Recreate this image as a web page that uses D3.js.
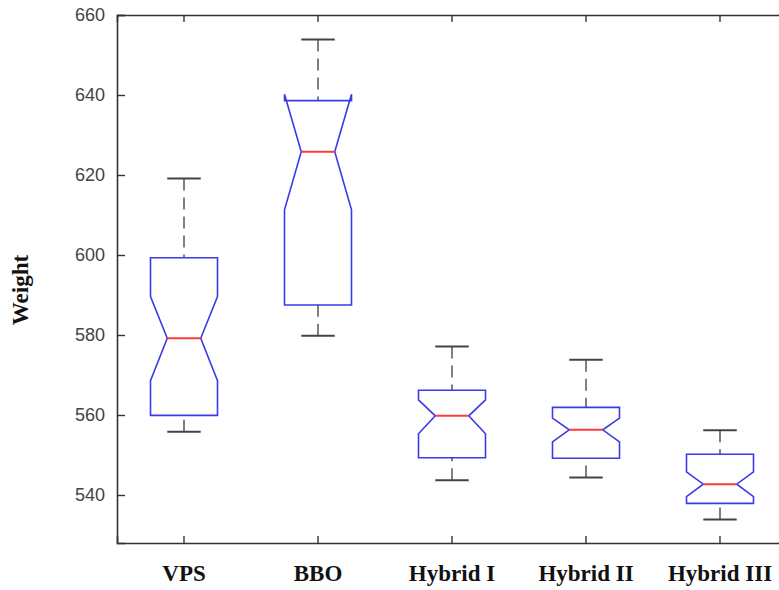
<!DOCTYPE html>
<html>
<head>
<meta charset="utf-8">
<script src="https://cdn.jsdelivr.net/npm/d3@7"></script>
<style>
  html, body { margin: 0; padding: 0; background: #fff; }
  svg { display: block; }
</style>
</head>
<body>
<svg id="chart" width="779" height="590"></svg>
<script>
// Notched box plot of weight per algorithm
const categories = ["VPS", "BBO", "Hybrid I", "Hybrid II", "Hybrid III"];
const whiskerHigh = [619.1, 653.9, 577.1, 573.8, 556.2];
const q3Values    = [599.3, 638.6, 566.2, 561.9, 550.2];
const notchHigh   = [589.6, 640.2, 563.8, 559.2, 545.8];
const medians     = [579.2, 625.8, 559.8, 556.3, 542.7];
const notchLow    = [568.6, 611.3, 555.3, 553.3, 539.6];
const q1Values    = [559.9, 587.5, 549.3, 549.2, 537.9];
const whiskerLow  = [555.8, 579.8, 543.7, 544.4, 533.9];
const yTicks = [540, 560, 580, 600, 620, 640, 660];
const yLabel = "Weight";

const svg = d3.select("#chart");
const plotLeft = 117, plotRight = 787, plotTop = 15, plotBottom = 543;

const x = d3.scaleBand().domain(categories).range([plotLeft, plotRight]).padding(0);
const y = d3.scaleLinear().domain([528, 660]).range([plotBottom, plotTop]);

const frameColor = "#333";

// Axes: ticks point inward on all four sides
const gLeft = svg.append("g").attr("transform", `translate(${plotLeft},0)`)
  .call(d3.axisLeft(y).tickValues(yTicks).tickSize(-8).tickPadding(12).tickFormat(d3.format("d")));
const gRight = svg.append("g").attr("transform", `translate(${plotRight},0)`)
  .call(d3.axisRight(y).tickValues(yTicks).tickSize(-8).tickFormat(""));
const gTop = svg.append("g").attr("transform", `translate(0,${plotTop})`)
  .call(d3.axisTop(x).tickSize(-7).tickFormat(""));
const gBottom = svg.append("g").attr("transform", `translate(0,${plotBottom})`)
  .call(d3.axisBottom(x).tickSize(-7).tickPadding(22));

[gLeft, gRight, gTop, gBottom].forEach(g => {
  g.select(".domain").attr("stroke", frameColor).attr("stroke-width", 1.6);
  g.selectAll(".tick line").attr("stroke", frameColor).attr("stroke-width", 1.4);
});

gLeft.selectAll(".tick text")
  .attr("font-family", "'Liberation Sans', Arial, sans-serif")
  .attr("font-size", 18)
  .attr("fill", "#444");

gBottom.selectAll(".tick text")
  .attr("font-family", "'Liberation Serif', 'Times New Roman', serif")
  .attr("font-weight", "bold")
  .attr("font-size", 23)
  .attr("fill", "#111");

// Y axis title
svg.append("text")
  .attr("transform", "translate(28,290) rotate(-90)")
  .attr("text-anchor", "middle")
  .attr("font-family", "'Liberation Serif', 'Times New Roman', serif")
  .attr("font-weight", "bold")
  .attr("font-size", 23)
  .attr("fill", "#111")
  .text(yLabel);

const boxes = categories.map((c, i) => ({
  c, hi: whiskerHigh[i], q3: q3Values[i], nhi: notchHigh[i], med: medians[i],
  nlo: notchLow[i], q1: q1Values[i], lo: whiskerLow[i]
}));

const halfW = x.bandwidth() * 0.25;
const notchW = halfW / 2;
const capW = halfW / 2;
const cx = d => x(d.c) + x.bandwidth() / 2;

const g = svg.append("g");

// Dashed whiskers
g.selectAll("line.whisker-up").data(boxes).join("line")
  .attr("class", "whisker-up")
  .attr("x1", cx).attr("x2", cx)
  .attr("y1", d => y(d.hi)).attr("y2", d => y(d.q3))
  .attr("stroke", "#555").attr("stroke-width", 1.5)
  .attr("stroke-dasharray", "12,7");
g.selectAll("line.whisker-down").data(boxes).join("line")
  .attr("class", "whisker-down")
  .attr("x1", cx).attr("x2", cx)
  .attr("y1", d => y(d.lo)).attr("y2", d => y(d.q1))
  .attr("stroke", "#555").attr("stroke-width", 1.5)
  .attr("stroke-dasharray", "12,7");

// Whisker caps
["hi", "lo"].forEach(k => {
  g.selectAll(`line.cap-${k}`).data(boxes).join("line")
    .attr("class", `cap-${k}`)
    .attr("x1", d => cx(d) - capW).attr("x2", d => cx(d) + capW)
    .attr("y1", d => y(d[k])).attr("y2", d => y(d[k]))
    .attr("stroke", "#444").attr("stroke-width", 2);
});

// Notched boxes
const line = d3.line();
g.selectAll("path.box").data(boxes).join("path")
  .attr("class", "box")
  .attr("d", d => {
    const c = cx(d);
    return line([
      [c - halfW, y(d.q1)], [c - halfW, y(d.nlo)], [c - notchW, y(d.med)],
      [c - halfW, y(d.nhi)], [c - halfW, y(d.q3)], [c + halfW, y(d.q3)],
      [c + halfW, y(d.nhi)], [c + notchW, y(d.med)], [c + halfW, y(d.nlo)],
      [c + halfW, y(d.q1)]
    ]) + "Z";
  })
  .attr("fill", "none")
  .attr("stroke", "#3a3ae8")
  .attr("stroke-width", 1.6)
  .attr("stroke-linejoin", "miter");

// Medians
g.selectAll("line.median").data(boxes).join("line")
  .attr("class", "median")
  .attr("x1", d => cx(d) - notchW).attr("x2", d => cx(d) + notchW)
  .attr("y1", d => y(d.med)).attr("y2", d => y(d.med))
  .attr("stroke", "#ff3a3a").attr("stroke-width", 2);
</script>
</body>
</html>
